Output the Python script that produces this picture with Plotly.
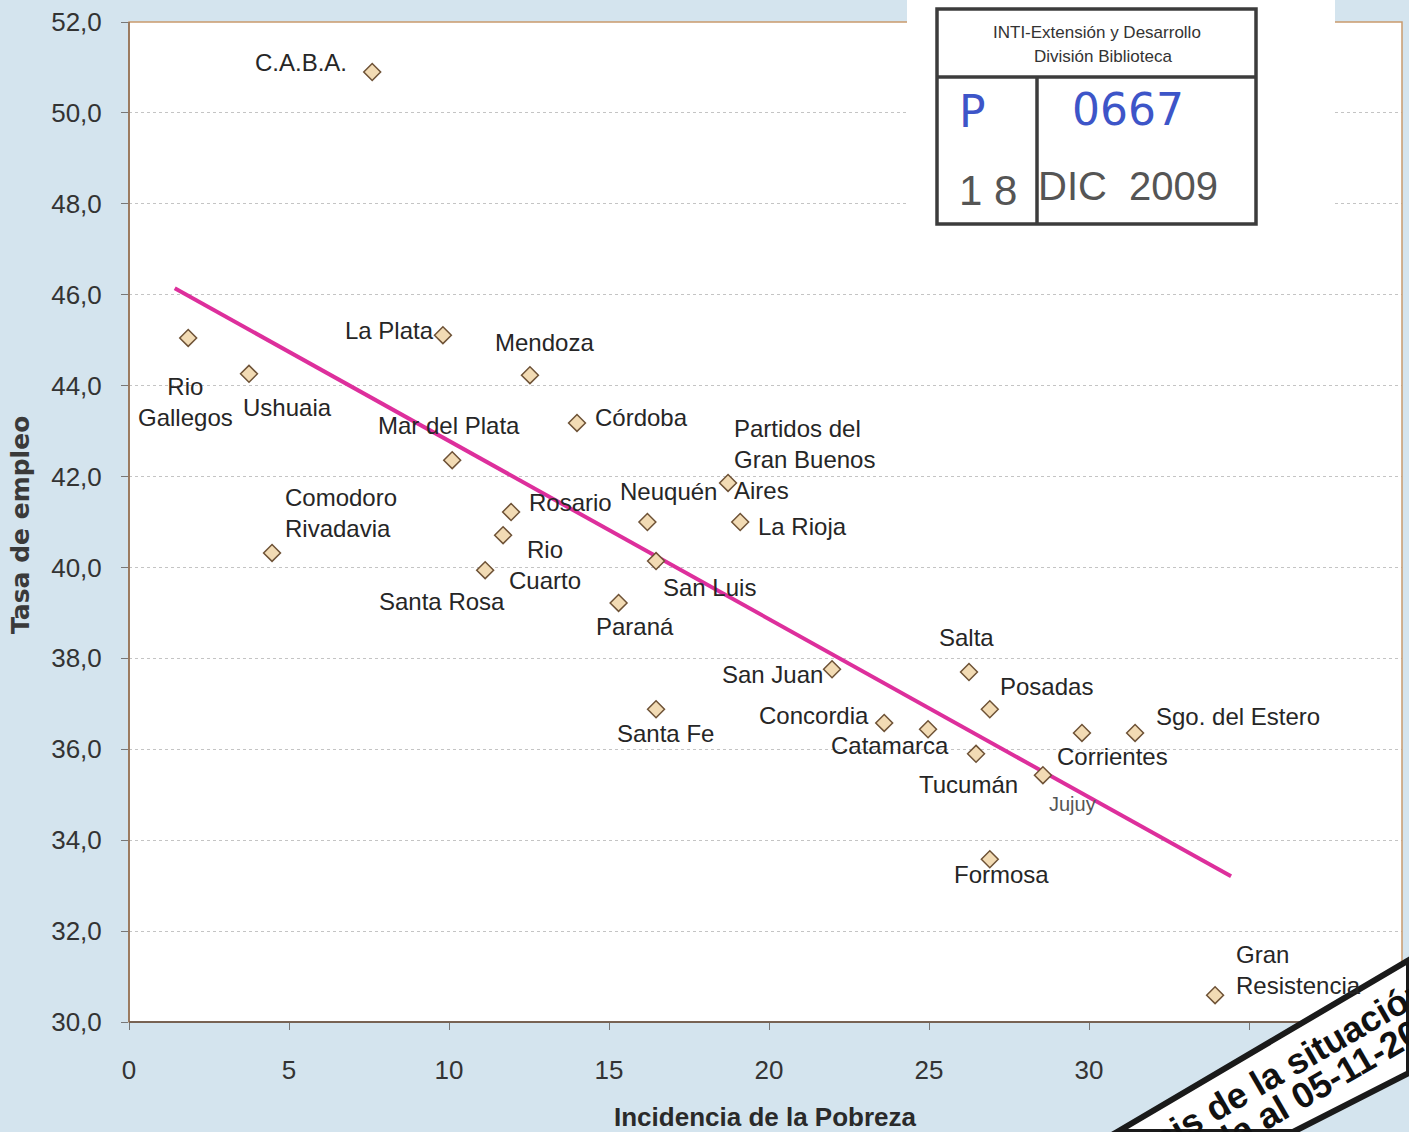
import numpy as np
import plotly.graph_objects as go

# ---------------- data ----------------
cities = ["C.A.B.A.", "Rio<br>Gallegos", "Ushuaia", "Comodoro<br>Rivadavia", "La Plata", "Mendoza",
          "Mar del Plata", "Córdoba", "Rosario", "Rio<br>Cuarto", "Santa Rosa", "Neuquén",
          "San Luis", "Paraná", "Partidos del<br>Gran Buenos<br>Aires", "La Rioja", "San Juan",
          "Santa Fe", "Concordia", "Catamarca", "Salta", "Posadas", "Tucumán", "Jujuy",
          "Corrientes", "Sgo. del Estero", "Formosa", "Gran<br>Resistencia"]
pobreza = [7.6, 1.85, 3.75, 4.47, 9.81, 12.53, 10.1, 14.0, 11.94, 11.69, 11.13, 16.2,
           16.47, 15.3, 18.72, 19.1, 21.97, 16.47, 23.6, 24.97, 26.25, 26.9, 26.47, 28.56,
           29.78, 31.44, 26.9, 33.94]
empleo = [50.9, 45.05, 44.26, 40.32, 45.11, 44.23, 42.36, 43.18, 41.22, 40.71, 39.94, 41.0,
          40.14, 39.22, 41.86, 41.0, 37.76, 36.88, 36.58, 36.44, 37.7, 36.88, 35.9, 35.43,
          36.36, 36.36, 33.58, 30.59]
x_ticks = [0, 5, 10, 15, 20, 25, 30, 35]
y_ticks = [30, 32, 34, 36, 38, 40, 42, 44, 46, 48, 50, 52]

# label placement (pixel offsets of text from its point: dx right, dy down, anchor)
label_pos = [(-71, -10, "center"), (-3, 64, "center"), (38, 34, "center"), (11, -40, "left"),
             (-53, -5, "center"), (15, -33, "center"), (-3, -35, "center"), (64, -5, "center"),
             (59, -10, "center"), (42, 30, "center"), (-43, 31, "center"), (21, -31, "center"),
             (53, 26, "center"), (16, 24, "center"), (4, -23, "left"), (62, 4, "center"),
             (-60, 5, "center"), (9, 24, "center"), (-70, -7, "center"), (-38, 16, "center"),
             (-3, -35, "center"), (57, -23, "center"), (-8, 31, "center"), (30, 29, "center"),
             (31, 24, "center"), (103, -16, "center"), (12, 15, "center"), (19, -25, "left")]

# ---------------- layout geometry ----------------
W, H = 1409, 1132
ML, MR, MT, MB = 129, 7, 22, 110
PW, PH = W - ML - MR, H - MT - MB


def px(xp):
    return (xp - ML) / PW


def py(yp):
    return (MT + PH - yp) / PH


fig = go.Figure()

# trend line (least squares on the data)
xa, ya = np.array(pobreza), np.array(empleo)
slope, intercept = np.polyfit(xa, ya, 1)
tx = np.array([xa.min() - 0.42, xa.max() + 0.5])
fig.add_trace(go.Scatter(x=tx, y=slope * tx + intercept, mode="lines",
                         line=dict(color="#dd2f9c", width=4), hoverinfo="skip", showlegend=False))

fig.add_trace(go.Scatter(x=pobreza, y=empleo, mode="markers",
                         marker=dict(symbol="diamond", size=13, color="#f2dbb4",
                                     line=dict(color="#6e5236", width=1.5)),
                         showlegend=False, hoverinfo="skip"))

annotations = []
for name, xv, yv, (dx, dy, anc) in zip(cities, pobreza, empleo, label_pos):
    small = name == "Jujuy"
    annotations.append(dict(x=xv, y=yv, xref="x", yref="y", text=name, showarrow=False,
                            xanchor=anc, yanchor="middle", align=anc,
                            xshift=dx, yshift=-dy,
                            font=dict(family="Liberation Sans", size=20 if small else 24,
                                      color="#555555" if small else "#262626")))

# axis titles
annotations.append(dict(x=0.5, y=py(1117), xref="paper", yref="paper", text="<b>Incidencia de la Pobreza</b>",
                        showarrow=False, xanchor="center", yanchor="middle",
                        font=dict(family="Liberation Sans", size=26, color="#2a2a2a")))
annotations.append(dict(x=px(20), y=py(525), xref="paper", yref="paper", text="<b>Tasa de empleo</b>",
                        showarrow=False, xanchor="center", yanchor="middle", textangle=-90,
                        font=dict(family="DejaVu Sans", size=25, color="#3a3a3a")))

shapes = []
# plot border (orange-ish)
shapes.append(dict(type="rect", xref="paper", yref="paper", x0=0, y0=0, x1=1, y1=1,
                   line=dict(color="#c99a6e", width=1.5), layer="above"))
# bottom / left axis lines darker
shapes.append(dict(type="line", xref="paper", yref="paper", x0=0, y0=0, x1=1, y1=0,
                   line=dict(color="#5a4a40", width=1.5), layer="above"))
shapes.append(dict(type="line", xref="paper", yref="paper", x0=0, y0=0, x1=0, y1=1,
                   line=dict(color="#8a6a52", width=1.5), layer="above"))

# stamp: white patch + box
shapes.append(dict(type="rect", xref="paper", yref="paper", x0=px(907), x1=px(1335), y0=py(268), y1=py(0),
                   fillcolor="white", line=dict(width=0), layer="above"))
stamp_line = dict(color="#3c3c3c", width=3.5)
shapes.append(dict(type="rect", xref="paper", yref="paper", x0=px(937), x1=px(1256), y0=py(224), y1=py(9),
                   line=stamp_line, layer="above"))
shapes.append(dict(type="line", xref="paper", yref="paper", x0=px(937), x1=px(1256), y0=py(77), y1=py(77),
                   line=stamp_line, layer="above"))
shapes.append(dict(type="line", xref="paper", yref="paper", x0=px(1037), x1=px(1037), y0=py(77), y1=py(224),
                   line=stamp_line, layer="above"))


def stamp_text(xp, yp, text, size, color, family="Liberation Sans"):
    annotations.append(dict(x=px(xp), y=py(yp), xref="paper", yref="paper", text=text,
                            showarrow=False, xanchor="center", yanchor="middle",
                            font=dict(family=family, size=size, color=color)))


stamp_text(1097, 32, "INTI-Extensión y Desarrollo", 17, "#333")
stamp_text(1103, 56, "División Biblioteca", 17, "#333")
stamp_text(972, 112, "P", 44, "#3d55c8", "DejaVu Sans")
stamp_text(1128, 110, "0667", 44, "#3d55c8", "DejaVu Sans")
stamp_text(988, 190, "1 8", 42, "#555")
stamp_text(1128, 186, "DIC  2009", 40, "#555")

# diagonal banner at bottom right
pts = [(1117, 1132), (1409, 960), (1409, 1073), (1293, 1132)]
path = "M " + " L ".join(f"{px(a):.5f},{py(b):.5f}" for a, b in pts) + " Z"
shapes.append(dict(type="path", xref="paper", yref="paper", path=path, fillcolor="white",
                   line=dict(color="#1a1a1a", width=6), layer="above"))
annotations.append(dict(x=px(1252), y=py(1086), xref="paper", yref="paper", text="<b>Análisis de la situación</b>",
                        showarrow=False, textangle=-30, xanchor="center", yanchor="middle",
                        font=dict(family="Liberation Sans", size=36, color="#111")))
annotations.append(dict(x=px(1267), y=py(1115), xref="paper", yref="paper", text="<b>actualizada al 05-11-2009</b>",
                        showarrow=False, textangle=-30, xanchor="center", yanchor="middle",
                        font=dict(family="Liberation Sans", size=36, color="#111")))

fig.update_layout(
    width=W, height=H,
    margin=dict(l=ML, r=MR, t=MT, b=MB),
    paper_bgcolor="#d4e4ee", plot_bgcolor="white",
    separators=",.",
    annotations=annotations, shapes=shapes,
    showlegend=False,
)
fig.update_xaxes(range=[0, PW / 32.0], tickvals=x_ticks, showgrid=False, zeroline=False,
                 ticks="outside", ticklen=7, tickcolor="#777", tickwidth=1.2,
                 ticklabelstandoff=18,
                 tickfont=dict(family="Liberation Sans", size=26, color="#333"), showline=False)
fig.update_yaxes(range=[30, 52], tickvals=y_ticks, tickformat=".1f", showgrid=True,
                 gridcolor="#c4c4c4", griddash="dot", gridwidth=1, zeroline=False,
                 ticks="outside", ticklen=7, tickcolor="#777", tickwidth=1.2,
                 ticklabelstandoff=14,
                 tickfont=dict(family="Liberation Sans", size=26, color="#333"), showline=False)

fig.write_html("out.html", config={"displayModeBar": False},
               post_script="document.body.style.margin='0';document.body.style.overflow='hidden';"
                           "document.body.style.background='#d4e4ee';")
